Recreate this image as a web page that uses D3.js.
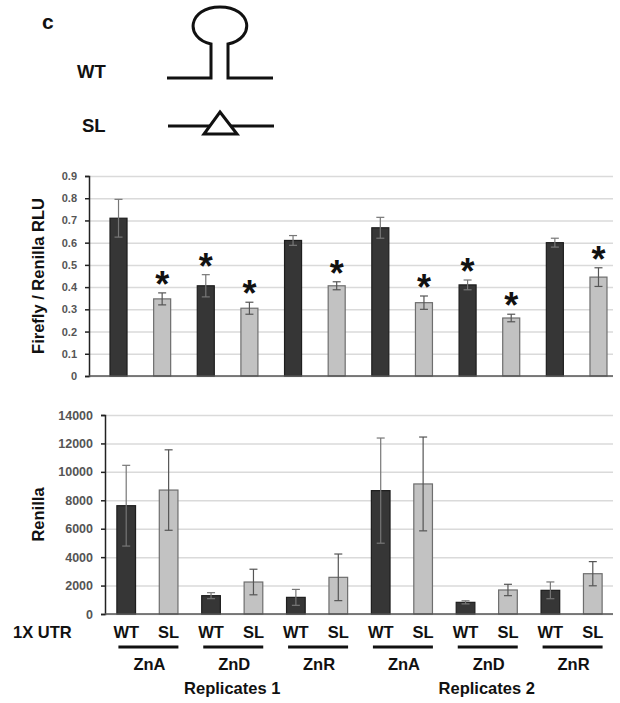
<!DOCTYPE html>
<html>
<head>
<meta charset="utf-8">
<script src="https://cdn.jsdelivr.net/npm/d3@7"></script>
<style>
  body { margin:0; background:#fff; }
  svg { font-family: "Liberation Sans", Arial, sans-serif; }
  .lbl { font-weight:bold; fill:#111; }
  .tick text { fill:#555; font-weight:bold; }
</style>
</head>
<body>
<svg id="fig" width="620" height="703"></svg>
<script>
// data
const genes = ['ZnA','ZnD','ZnR','ZnA','ZnD','ZnR'];
const constructs = ['WT','SL'];
const replicates = ['Replicates 1','Replicates 2'];
const ratio    = [0.71, 0.347, 0.406, 0.305, 0.61, 0.406, 0.667, 0.33, 0.41, 0.261, 0.60, 0.445];
const ratioErr = [0.085, 0.027, 0.05, 0.027, 0.022, 0.018, 0.047, 0.03, 0.022, 0.017, 0.02, 0.042];
const renilla    = [7620, 8720, 1290, 2250, 1170, 2580, 8680, 9150, 820, 1690, 1665, 2835];
const renillaErr = [2840, 2830, 210, 900, 560, 1640, 3700, 3300, 110, 400, 590, 850];
const signif = [0,1,1,1,0,1,0,1,1,1,0,1];
const ratioTicks = [0,0.1,0.2,0.3,0.4,0.5,0.6,0.7,0.8,0.9];
const renillaTicks = [0,2000,4000,6000,8000,10000,12000,14000];

const svg = d3.select('#fig');

const bars = [];
genes.forEach((g,gi) => constructs.forEach((c,ci) => {
    const i = gi*2+ci;
    bars.push({id:i, gene:g, construct:c, rep:Math.floor(gi/3),
        ratio:ratio[i], ratioErr:ratioErr[i], renilla:renilla[i], renillaErr:renillaErr[i], star:signif[i]});
}));

// schematic
const sch = svg.append('g').attr('fill','none').attr('stroke','#111').attr('stroke-width',3);
svg.append('text').attr('class','lbl').attr('x',42).attr('y',29).style('font-size','21px').text('c');
svg.append('text').attr('class','lbl').attr('x',77).attr('y',78).style('font-size','18.5px').text('WT');
svg.append('text').attr('class','lbl').attr('x',82).attr('y',132).style('font-size','18.5px').text('SL');
const p = d3.path();
p.moveTo(167,78); p.lineTo(211,78); p.lineTo(211,44);
p.bezierCurveTo(184,38,188,7,220,7);
p.bezierCurveTo(252,7,256,38,228,44);
p.lineTo(228,78); p.lineTo(273,78);
sch.append('path').attr('d',p.toString());
sch.append('line').attr('x1',168).attr('x2',274).attr('y1',126).attr('y2',126);
sch.append('path').attr('d','M220,112L237,134L204,134Z').attr('fill','#fff');

function panel(opt){
    const y = d3.scaleLinear().domain(opt.domain).range([opt.bottom, opt.top]);
    const x = d3.scaleBand().domain(bars.map(d=>d.id)).range(opt.band).paddingInner(opt.pad).paddingOuter(opt.pad/2);
    const g = svg.append('g');

    const grid = g.append('g').attr('transform',`translate(${opt.left},0)`)
        .call(d3.axisRight(y).tickValues(opt.ticks).tickSize(opt.right-opt.left).tickFormat(''));
    grid.select('.domain').remove();
    grid.selectAll('line').attr('stroke','#dadada').attr('stroke-width',1.5);

    const ax = g.append('g').attr('transform',`translate(${opt.left},0)`)
        .call(d3.axisLeft(y).tickValues(opt.ticks).tickSize(4).tickPadding(8).tickFormat(opt.fmt));
    ax.select('.domain').attr('stroke','#222').attr('stroke-width',1.5);
    ax.selectAll('.tick line').attr('stroke','#222').attr('stroke-width',1.5);
    ax.selectAll('.tick text').style('font-size',opt.fs);

    const bw = x.bandwidth();
    g.selectAll('rect.bar').data(bars).join('rect')
        .attr('class','bar')
        .attr('x',d=>x(d.id)).attr('width',bw)
        .attr('y',d=>y(opt.val(d))).attr('height',d=>opt.bottom-y(opt.val(d)))
        .attr('fill',d=>d.construct==='WT'?'#363636':'#c2c2c2')
        .attr('stroke',d=>d.construct==='WT'?'#1e1e1e':'#6e6e6e')
        .attr('stroke-width',1.2);

    const eb = g.selectAll('g.err').data(bars).join('g').attr('class','err')
        .attr('stroke',d=>d.construct==='WT'?'#777':'#555').attr('stroke-width',1.2);
    const cx = d=>x(d.id)+bw/2;
    eb.append('line').attr('x1',cx).attr('x2',cx)
        .attr('y1',d=>y(opt.val(d)+opt.err(d))).attr('y2',d=>y(opt.val(d)-opt.err(d)));
    [1,-1].forEach(s => eb.append('line')
        .attr('x1',d=>cx(d)-4).attr('x2',d=>cx(d)+4)
        .attr('y1',d=>y(opt.val(d)+s*opt.err(d))).attr('y2',d=>y(opt.val(d)+s*opt.err(d))));

    // base line
    g.append('line').attr('x1',opt.left).attr('x2',opt.right).attr('y1',opt.bottom).attr('y2',opt.bottom)
        .attr('stroke','#555').attr('stroke-width',1.5);

    g.append('text').attr('class','lbl')
        .attr('transform',`translate(${opt.titleX},${(opt.top+opt.bottom)/2}) rotate(-90)`)
        .attr('text-anchor','middle').attr('dy','0.35em').style('font-size','16.5px').text(opt.title);
    return {x,y,g,bw};
}

const upper = panel({
    domain:[0,0.9], top:176, bottom:376, left:89, right:613, band:[96.7,620.3], pad:0.61,
    ticks:ratioTicks, fmt:d=>String(d), fs:'11px', val:d=>d.ratio, err:d=>d.ratioErr,
    title:'Firefly / Renilla RLU', titleX:38
});
upper.g.selectAll('text.star').data(bars.filter(d=>d.star)).join('text')
    .attr('class','lbl star').attr('text-anchor','middle')
    .attr('x',d=>upper.x(d.id)+upper.bw/2)
    .attr('y',d=>upper.y(d.ratio+d.ratioErr)-17+0.58*36)
    .style('font-size','36px').text('*');

const lower = panel({
    domain:[0,14000], top:415, bottom:614, left:105, right:613, band:[105,614], pad:0.56,
    ticks:renillaTicks, fmt:d=>String(d), fs:'12.5px', val:d=>d.renilla, err:d=>d.renillaErr,
    title:'Renilla', titleX:38
});

// category labels
const lab = svg.append('g');
lab.append('text').attr('class','lbl').attr('x',13).attr('y',638).style('font-size','16.5px').text('1X UTR');
lab.selectAll('text.con').data(bars).join('text').attr('class','lbl con')
    .attr('text-anchor','middle').attr('x',d=>lower.x(d.id)+lower.bw/2).attr('y',638)
    .style('font-size','16.5px').text(d=>d.construct);
const pairs = genes.map((g,gi)=>({gene:g, a:bars[gi*2], b:bars[gi*2+1]}));
const pc = d => (lower.x(d.a.id)+lower.x(d.b.id)+lower.bw)/2;
lab.selectAll('line.gl').data(pairs).join('line').attr('class','gl')
    .attr('x1',d=>pc(d)-29).attr('x2',d=>pc(d)+31).attr('y1',647).attr('y2',647)
    .attr('stroke','#111').attr('stroke-width',3);
lab.selectAll('text.gene').data(pairs).join('text').attr('class','lbl gene')
    .attr('text-anchor','middle').attr('x',d=>pc(d)+2).attr('y',670)
    .style('font-size','16.5px').text(d=>d.gene);
lab.selectAll('text.rep').data(replicates).join('text').attr('class','lbl rep')
    .attr('text-anchor','middle')
    .attr('x',(d,i)=>(lower.x(i*6)+lower.x(i*6+5)+lower.bw)/2)
    .attr('y',694).style('font-size','16.5px').text(d=>d);
</script>
</body>
</html>
